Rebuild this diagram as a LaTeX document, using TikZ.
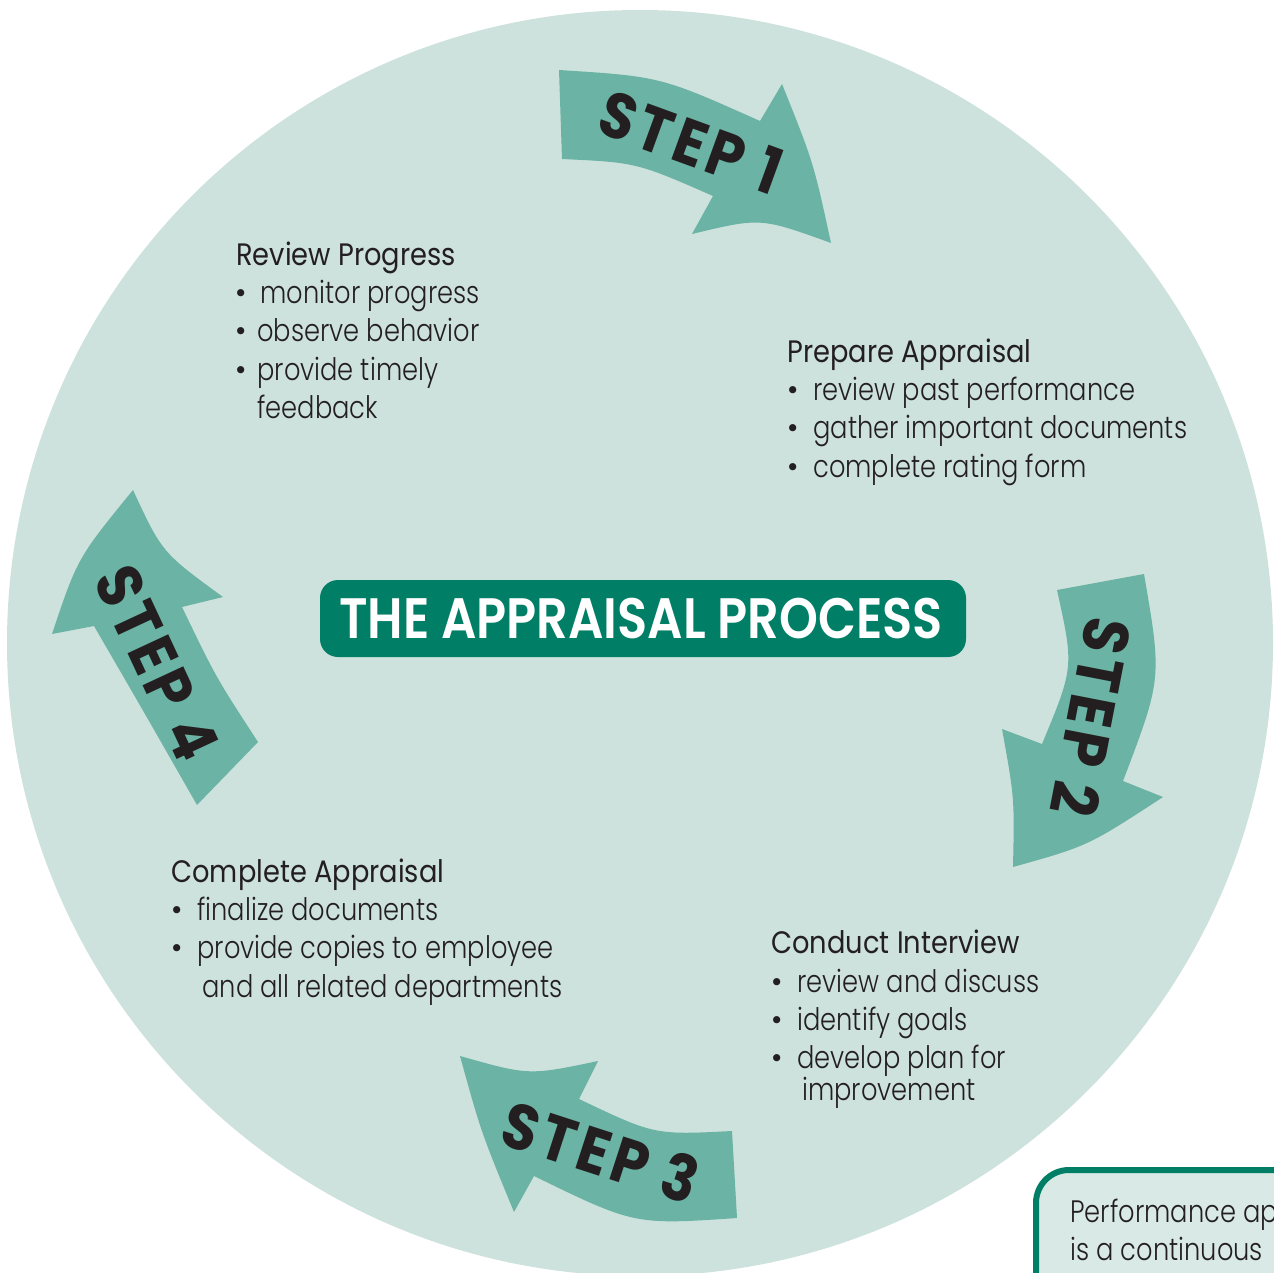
\documentclass[tikz,border=0pt]{standalone}
\usepackage{fontspec}
\usepackage{graphicx}
\setmainfont{Poppins}[UprightFont=* Light, BoldFont=* Bold]
\newfontfamily\headfont{Poppins}
\newfontfamily\titlefont{Poppins}[UprightFont=* SemiBold]
\newfontfamily\stepfont{Poppins}[UprightFont=* Bold, LetterSpace=8]
\definecolor{bgc}{HTML}{CDE2DC}
\definecolor{arrc}{HTML}{6BB3A4}
\definecolor{titc}{HTML}{007F66}
\definecolor{txtc}{HTML}{231F20}
\definecolor{boxc}{HTML}{D9E9E5}
\newcommand\hs[1]{\scalebox{0.83}[1]{#1}}
\newcommand\hh[1]{\scalebox{0.88}[1]{\headfont #1}}
\newcommand\hst[1]{\scalebox{0.9}[1]{#1}}
\newcommand\bul[1]{\makebox[#1][l]{\textbullet}}
\begin{document}
\begin{tikzpicture}[x=0.5pt,y=-0.5pt,
  body/.style={anchor=base west, inner sep=0pt, text=txtc, font=\fontsize{15.5}{19}\selectfont},
  steplabel/.style={text=txtc, inner sep=0pt, font=\stepfont\fontsize{32}{32}\selectfont},
  band/.style={fill=arrc}]
\useasboundingbox (0,0) rectangle (1274,1273);
\begin{scope}
\clip (0,0) rectangle (1274,1273);
\fill[bgc] (640,643) circle[radius=633];

% arrows
\fill[band] (559,70) .. controls (660.5,76.5) .. (760,121) -- (782,84)
  .. controls (813.5,162.5) .. (831,243) .. controls (760.5,217.5) .. (692,234)
  -- (713,196) .. controls (636.5,162.5) .. (562,159) -- cycle;
\fill[band] (1057,590) -- (1144,574) .. controls (1162,678.5) .. (1123,781)
  -- (1163,797) .. controls (1088,846) .. (1013,867) .. controls (1014.5,798) .. (1002,729)
  -- (1042,744) .. controls (1074,667) .. (1057,590) -- cycle;
\fill[band] (460,1056) .. controls (529,1075.5) .. (598,1061) -- (579,1099)
  .. controls (654.5,1135) .. (732,1131) -- (737,1218) .. controls (634.5,1225) .. (534,1176)
  -- (514,1212) .. controls (481,1132) .. (460,1056) -- cycle;
\fill[band] (133,490) .. controls (162,552.5) .. (223,597) -- (182,607)
  .. controls (216,677.5) .. (258,742) -- (197,805) .. controls (146.5,716.5) .. (94,626)
  -- (52,634) .. controls (77.5,558) .. (133,490) -- cycle;

\node[steplabel, rotate=-20] (s1) at (691,142) {\hst{STEP 1}};
\node[steplabel, rotate=-101] (s2) at (1092,717) {\hst{STEP 2}};
\node[steplabel, rotate=-18] (s3) at (601,1152) {\hst{STEP 3}};
\node[steplabel, rotate=-65] (s4) at (157,663) {\hst{STEP 4}};

% title
\node[fill=titc, rounded corners=9pt, minimum width=323pt, minimum height=38.5pt, inner sep=0pt] (title) at (643,618.5) {};
\node[anchor=base, inner sep=0pt, text=white, font=\titlefont\fontsize{28.5}{28.5}\selectfont] (titletext) at (641,638) {\scalebox{0.868}[1]{THE APPRAISAL PROCESS}};

% Review Progress
\node[body] (rp0) at (236,265) {\hh{Review Progress}};
\node[body] (rp1) at (235,303) {\bul{12.5pt}\hs{monitor progress}};
\node[body] (rp2) at (235,342) {\bul{11pt}\hs{observe behavior}};
\node[body] (rp3) at (235,380) {\bul{11pt}\hs{provide timely}};
\node[body] (rp4) at (257,418) {\hs{feedback}};

% Prepare Appraisal
\node[body] (pa0) at (787,362) {\hh{Prepare Appraisal}};
\node[body] (pa1) at (787,400) {\bul{13pt}\hs{review past performance}};
\node[body] (pa2) at (787,438) {\bul{13pt}\hs{gather important documents}};
\node[body] (pa3) at (787,477) {\bul{13pt}\hs{complete rating form}};

% Complete Appraisal
\node[body] (ca0) at (171,882) {\hh{Complete Appraisal}};
\node[body] (ca1) at (171,920) {\bul{13pt}\hs{finalize documents}};
\node[body] (ca2) at (171,958) {\bul{13pt}\hs{provide copies to employee}};
\node[body] (ca3) at (202,997) {\hs{and all related departments}};

% Conduct Interview
\node[body] (ci0) at (771,953) {\hh{Conduct Interview}};
\node[body] (ci1) at (771,992) {\bul{13pt}\hs{review and discuss}};
\node[body] (ci2) at (771,1030) {\bul{13pt}\hs{identify goals}};
\node[body] (ci3) at (771,1068) {\bul{13pt}\hs{develop plan for}};
\node[body] (ci4) at (802,1100) {\hs{improvement}};

% note box
\draw[titc, line width=3pt, fill=boxc, rounded corners=16.5pt] (1036,1170) rectangle (1330,1330);
\node[body] (nb1) at (1070,1222) {\hs{Performance ap}};
\node[body] (nb2) at (1070,1260) {\hs{is a continuous}};
\end{scope}
\end{tikzpicture}
\end{document}
